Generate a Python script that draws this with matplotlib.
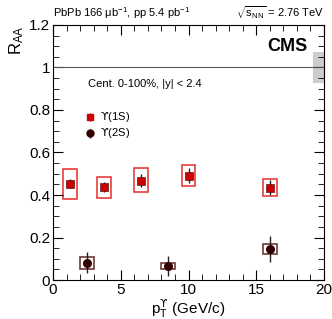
import matplotlib
matplotlib.use("Agg")
import matplotlib.pyplot as plt
from matplotlib.patches import Rectangle
from matplotlib.ticker import MultipleLocator

plt.rcParams['font.family'] = ['Liberation Sans', 'DejaVu Sans']
plt.rcParams['mathtext.fontset'] = 'custom'
plt.rcParams['mathtext.rm'] = 'Liberation Sans'
plt.rcParams['mathtext.it'] = 'Liberation Sans'
plt.rcParams['mathtext.sf'] = 'DejaVu Sans'  # hooked upsilon glyph

# Y(1S)
pt_1s = [1.25, 3.75, 6.5, 10.0, 16.0]
raa_1s = [0.454, 0.436, 0.468, 0.491, 0.435]
stat_1s = [0.023, 0.024, 0.029, 0.035, 0.037]
syst_lo_1s = [0.381, 0.386, 0.414, 0.444, 0.394]
syst_hi_1s = [0.524, 0.483, 0.526, 0.539, 0.476]

# Y(2S)
pt_2s = [2.5, 8.5, 16.0]
raa_2s = [0.082, 0.066, 0.146]
stat_2s = [0.049, 0.047, 0.059]
syst_lo_2s = [0.052, 0.052, 0.123]
syst_hi_2s = [0.110, 0.079, 0.172]

box_halfwidth = 0.5

red = '#cc0000'
red_box = '#e83c3c'
brown = '#330000'
brown_box = '#6b3a3a'
ups = r'\mathsf{' + '\u03d2' + '}'

fig = plt.figure(figsize=(3.32, 3.19), dpi=100)
ax = fig.add_axes([0.160, 0.122, 0.816, 0.800])

# systematic boxes
for x, lo, hi in zip(pt_1s, syst_lo_1s, syst_hi_1s):
    ax.add_patch(Rectangle((x - box_halfwidth, lo), 2 * box_halfwidth, hi - lo,
                           fill=False, edgecolor=red_box, lw=1.2))
for x, lo, hi in zip(pt_2s, syst_lo_2s, syst_hi_2s):
    ax.add_patch(Rectangle((x - box_halfwidth, lo), 2 * box_halfwidth, hi - lo,
                           fill=False, edgecolor=brown_box, lw=1.2))

ax.errorbar(pt_1s, raa_1s, yerr=stat_1s, fmt='s', color=red, mec=brown, mew=0.4,
            ms=5.5, ecolor='#222222', elinewidth=1.0, capsize=0, zorder=3)
ax.errorbar(pt_2s, raa_2s, yerr=stat_2s, fmt='o', color=brown, ms=5.5,
            ecolor='#222222', elinewidth=1.0, capsize=0, zorder=3)

# unity line and global uncertainty
ax.axhline(1.0, color='#555555', lw=0.8)
ax.add_patch(Rectangle((19.2, 0.927), 0.8, 0.146, color='#cccccc', lw=0, zorder=0))

ax.set_xlim(0, 20)
ax.set_ylim(0, 1.2)
ax.xaxis.set_major_locator(MultipleLocator(5))
ax.xaxis.set_minor_locator(MultipleLocator(1))
ax.yaxis.set_major_locator(MultipleLocator(0.2))
ax.yaxis.set_minor_locator(MultipleLocator(0.05))
ax.set_yticks([0, 0.2, 0.4, 0.6, 0.8, 1.0, 1.2])
ax.set_yticklabels(['0', '0.2', '0.4', '0.6', '0.8', '1', '1.2'])
ax.tick_params(which='both', direction='in', top=True, right=True, labelsize=11, pad=2)
ax.tick_params(which='major', length=7)
ax.tick_params(which='minor', length=4)

ax.set_xlabel(r'p$_{\rm T}^{' + ups + r'}$ (GeV/c)', fontsize=11, labelpad=0)
ax.set_ylabel(r'R$_{\rm AA}$', fontsize=12, loc='top', labelpad=2)

fig.text(0.160, 0.935, r'PbPb 166 $\mu$b$^{-1}$, pp 5.4 pb$^{-1}$', fontsize=8, ha='left', va='bottom')
fig.text(0.976, 0.935, r'$\sqrt{\rm s_{NN}}$ = 2.76 TeV', fontsize=8, ha='right', va='bottom')

ax.text(18.8, 1.1, 'CMS', fontsize=13, fontweight='bold', ha='right', va='center')
ax.text(2.6, 0.92, 'Cent. 0-100%, |y| < 2.4', fontsize=8, ha='left', va='center')

ax.errorbar([2.7], [0.767], yerr=[0.02], fmt='s', color=red, ms=5, ecolor='#222222',
            elinewidth=1.0, capsize=0)
ax.errorbar([2.7], [0.69], yerr=[0.02], fmt='o', color=brown, ms=5, ecolor='#222222',
            elinewidth=1.0, capsize=0)
ax.text(3.45, 0.767, '$' + ups + '$(1S)', fontsize=8, ha='left', va='center')
ax.text(3.45, 0.69, '$' + ups + '$(2S)', fontsize=8, ha='left', va='center')

fig.savefig('out.png', dpi=100)
